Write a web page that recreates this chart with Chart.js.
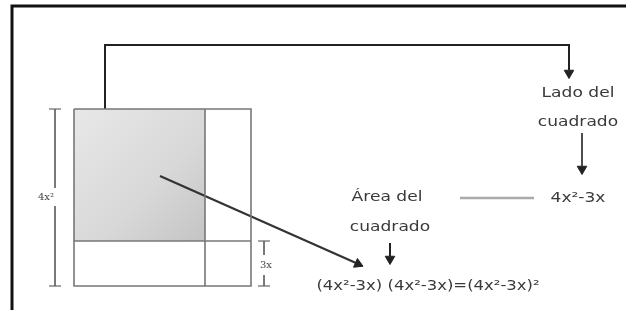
<!DOCTYPE html>
<html>
<head>
<meta charset="utf-8">
<script src="https://cdn.jsdelivr.net/npm/chart.js@4"></script>
<style>
body{margin:0;background:#fff;}
canvas{display:block;}
</style>
</head>
<body>
<canvas id="diagram" width="626" height="310"></canvas>
<script>
// line segments of the sketch, each one a list of x and y values
const segX = [
    [12, 12, 626],            // frame
    [74, 251, 251, 74, 74],   // outer square
    [205, 205],               // vertical divider
    [74, 251],                // horizontal divider
    [105, 105, 569, 569],     // connector to "Lado del cuadrado"
    [160, 356],               // diagonal arrow
    [55, 55], [55, 55],       // left dimension
    [49, 61], [49, 61],
    [264, 264], [264, 264],   // 3x dimension
    [258, 270], [258, 270],
    [390, 390],               // arrow below "cuadrado"
    [582, 582],               // arrow below "Lado del cuadrado"
    [460, 534]                // grey dash
];
const segY = [
    [310, 6, 6],
    [109, 109, 286, 286, 109],
    [109, 286],
    [241, 241],
    [109, 45, 45, 70],
    [176, 263],
    [109, 188], [206, 286],
    [109, 109], [286, 286],
    [241, 255], [275, 286],
    [241, 241], [286, 286],
    [243, 256],
    [133, 166],
    [198, 198]
];
const segColor = ['#111', '#777', '#777', '#777', '#222', '#333', '#666', '#666', '#666', '#666',
    '#666', '#666', '#666', '#666', '#222', '#222', '#aaa'];
const segWidth = [3, 1.6, 1.6, 1.6, 2, 2.2, 1, 1, 1.2, 1.2, 1, 1, 1.2, 1.2, 2, 1.6, 2.5];

// shaded part of the square
const shadeX = [74, 205, 205, 74, 74];
const shadeY = [109, 109, 241, 241, 109];

// arrow heads
const headX = [569, 358, 390, 582];
const headY = [73, 264, 259, 169];
const headRot = [180, 114, 180, 180];

// texts
const labels = ['Lado del', 'cuadrado', '4x²-3x', 'Área del', 'cuadrado',
    '(4x²-3x) (4x²-3x)=(4x²-3x)²', '4x²', '3x'];
const labelX = [578, 578, 578, 387, 390, 428, 46, 266];
const labelY = [93, 122, 198, 197, 227, 286, 197, 265];
const labelSize = [14, 14, 14, 14, 14, 13.5, 10, 10];

const datasets = [];
datasets.push({
    data: shadeX.map((x, i) => ({x: x, y: shadeY[i]})),
    showLine: true,
    fill: 'shape',
    order: 10,
    borderWidth: 0,
    pointRadius: 0,
    backgroundColor: function(context){
        const chart = context.chart;
        if(!chart.chartArea) return '#d0d0d0';
        const sx = chart.scales.x, sy = chart.scales.y;
        const g = chart.ctx.createLinearGradient(sx.getPixelForValue(74), sy.getPixelForValue(109),
            sx.getPixelForValue(205), sy.getPixelForValue(241));
        g.addColorStop(0, '#e8e8e8');
        g.addColorStop(0.6, '#d8d8d8');
        g.addColorStop(1, '#c4c4c4');
        return g;
    }
});
segX.forEach((xs, i) => {
    datasets.push({
        data: xs.map((x, j) => ({x: x, y: segY[i][j]})),
        showLine: true,
        fill: false,
        order: 1,
        borderColor: segColor[i],
        borderWidth: segWidth[i],
        pointRadius: 0,
        tension: 0
    });
});
datasets.push({
    data: headX.map((x, i) => ({x: x, y: headY[i]})),
    showLine: false,
    order: 0,
    pointStyle: 'triangle',
    pointRadius: 5.5,
    rotation: headRot,
    backgroundColor: '#222',
    borderColor: '#222',
    borderWidth: 1
});

const textPlugin = {
    id: 'texts',
    afterDatasetsDraw(chart){
        const ctx = chart.ctx, sx = chart.scales.x, sy = chart.scales.y;
        labels.forEach((t, i) => {
            ctx.save();
            ctx.textAlign = 'center';
            ctx.textBaseline = 'middle';
            const small = labelSize[i] < 11;
            ctx.font = labelSize[i] + (small ? 'px "DejaVu Serif"' : 'px "DejaVu Sans"');
            ctx.fillStyle = small ? '#444' : '#3a3a3a';
            ctx.translate(sx.getPixelForValue(labelX[i]), sy.getPixelForValue(labelY[i]));
            ctx.scale(small ? 1 : 1.22, 1);
            ctx.fillText(t, 0, 0);
            ctx.restore();
        });
    }
};

new Chart(document.getElementById('diagram').getContext('2d'), {
    type: 'scatter',
    data: {datasets: datasets},
    options: {
        responsive: false,
        animation: false,
        layout: {padding: 0, autoPadding: false},
        scales: {
            x: {type: 'linear', min: 0, max: 626, display: false},
            y: {type: 'linear', min: 0, max: 310, reverse: true, display: false}
        },
        plugins: {legend: {display: false}, tooltip: {enabled: false}}
    },
    plugins: [textPlugin]
});
</script>
</body>
</html>
